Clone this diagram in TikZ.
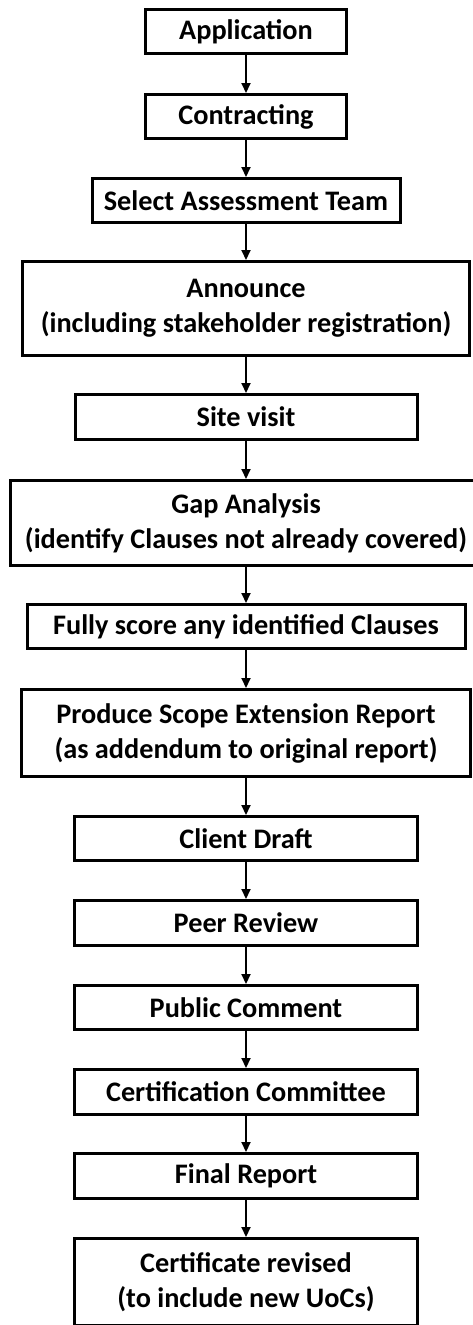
\documentclass[tikz,border=0pt]{standalone}
\usepackage{fontspec}
\setmainfont{Carlito}
\usetikzlibrary{arrows.meta}
\tikzset{
	stage/.style={draw, line width=2.25pt, align=center, inner sep=0pt, font=\bfseries\fontsize{21.2pt}{26.25pt}\selectfont},
	flow/.style={line width=1.5pt, -{Triangle[length=7.5pt, width=6.75pt]}}
}
\newcommand{\stage}[5] % name, centre y in px, width in px, height in px, text
{
	% box, sizes are outer edges of the frame
	\node[stage, minimum width={(#3*0.75-2.25)*1pt}, minimum height={(#4*0.75-2.25)*1pt}] (#1) at (246,#2) {#5};
}

\begin{document}
\begin{tikzpicture}[x=0.75pt, y=-0.75pt]
	% page: 473px x 1325px, y runs downwards
	\useasboundingbox (0,0) rectangle (473,1325);
	
	\stage{appl}{31.5}{204}{47}{Application};
	\stage{contr}{116.5}{204}{47}{Contracting};
	\stage{team}{200.5}{311}{47}{Select Assessment Team};
	\stage{annc}{308.5}{450}{97}{Announce\\(including stakeholder registration)};
	\stage{visit}{417}{345}{48}{Site visit};
	\stage{gap}{523}{475}{88}{Gap Analysis\\(identify Clauses not already covered)};
	\stage{score}{626.5}{441}{47}{Fully score any identified Clauses};
	\stage{scope}{733}{452}{90}{Produce Scope Extension Report\\(as addendum to original report)};
	\stage{draft}{838.5}{346}{47}{Client Draft};
	\stage{peer}{923}{346}{48}{Peer Review};
	\stage{publ}{1007.5}{346}{47}{Public Comment};
	\stage{comm}{1092}{346}{48}{Certification Committee};
	\stage{final}{1176}{346}{48}{Final Report};
	\stage{cert}{1282}{346}{90}{Certificate revised\\(to include new UoCs)};
	
	% arrows between stages
	\draw[flow] (appl) -- (contr);
	\draw[flow] (contr) -- (team);
	\draw[flow] (team) -- (annc);
	\draw[flow] (annc) -- (visit);
	\draw[flow] (visit) -- (gap);
	\draw[flow] (gap) -- (score);
	\draw[flow] (score) -- (scope);
	\draw[flow] (scope) -- (draft);
	\draw[flow] (draft) -- (peer);
	\draw[flow] (peer) -- (publ);
	\draw[flow] (publ) -- (comm);
	\draw[flow] (comm) -- (final);
	\draw[flow] (final) -- (cert);
	
\end{tikzpicture}
\end{document}
